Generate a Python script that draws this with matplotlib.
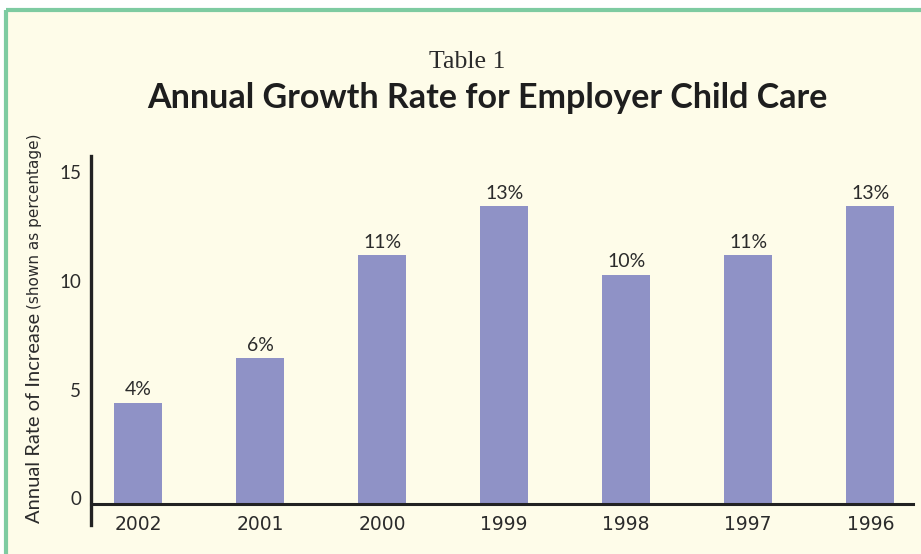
import numpy as np
import matplotlib.pyplot as plt
from matplotlib.lines import Line2D
from matplotlib.patches import Rectangle

# datos
years = ['2002', '2001', '2000', '1999', '1998', '1997', '1996']
rates = [4.4, 6.45, 11.2, 13.45, 10.3, 11.2, 13.45]
pct_labels = ['4%', '6%', '11%', '13%', '10%', '11%', '13%']
yticks = [0, 5, 10, 15]

bar_color = '#8f92c6'
cream = '#fefce9'
green = '#7ecba1'
ink = '#2b2b2b'

W, H = 921, 554
fig = plt.figure(figsize=(W / 100, H / 100), dpi=100)
fig.patch.set_facecolor('white')

# panel crema con borde verde arriba e izquierda
px = 6 / W
py = 1 - 10 / H
fig.add_artist(Rectangle((px, 0), 1 - px, py, transform=fig.transFigure,
                         facecolor=cream, edgecolor='none', zorder=0))
fig.add_artist(Line2D([px, 1], [py, py], transform=fig.transFigure,
                      color=green, lw=3, solid_capstyle='butt'))
fig.add_artist(Line2D([px, px], [0, py], transform=fig.transFigure,
                      color=green, lw=3, solid_capstyle='butt'))

# titulos
fig.text(467 / W, 1 - 62 / H, 'Table 1', ha='center', va='center',
         family='Liberation Serif', fontsize=18.5, color=ink)
fig.text(487 / W, 1 - 98 / H, 'Annual Growth Rate for Employer Child Care',
         ha='center', va='center', family='Lato', fontweight='bold',
         fontsize=24.5, color='#1e1e1e')

# ejes
ax = fig.add_axes([91 / W, 29 / H, (913 - 91) / W, (525 - 156) / H])
ax.set_facecolor('none')
x = np.arange(len(years))
baseline = -0.28
ax.bar(x, np.array(rates) - baseline, bottom=baseline, width=0.393,
       color=bar_color, zorder=2)
for xi, r, lab in zip(x, rates, pct_labels):
    ax.text(xi, r + 0.2, lab, ha='center', va='bottom', family='Lato',
            fontsize=14, color=ink)

ax.set_xlim(-0.385, 6.35)
ax.set_ylim(-1.24, 15.76)
ax.set_xticks(x)
ax.set_xticklabels(years)
ax.set_yticks(yticks)
ax.tick_params(length=0, labelsize=13.5, colors=ink)
ax.tick_params(axis='y', pad=7)
ax.tick_params(axis='x', pad=8)
for lab in ax.get_xticklabels() + ax.get_yticklabels():
    lab.set_family('Lato')
for s in ['top', 'right']:
    ax.spines[s].set_visible(False)
ax.spines['bottom'].set_position(('data', baseline))
ax.spines['bottom'].set_linewidth(2.2)
ax.spines['bottom'].set_color('#222222')
ax.spines['bottom'].set_zorder(3)
ax.spines['left'].set_linewidth(2.4)
ax.spines['left'].set_color('#222222')

# etiqueta del eje y en dos tamaños
t1 = fig.text(35 / W, 1 - 523 / H, 'Annual Rate of Increase', rotation=90,
              ha='center', va='bottom', family='Lato', fontsize=14.5, color=ink)
fig.add_artist(plt.Annotation('(shown as percentage)', xy=(0.5, 1.0),
                              xycoords=t1, xytext=(0, 3),
                              textcoords='offset points', rotation=90,
                              ha='center', va='bottom', family='DejaVu Sans',
                              fontsize=11, color=ink))

fig.savefig('out.png', dpi=100, facecolor=fig.get_facecolor())
